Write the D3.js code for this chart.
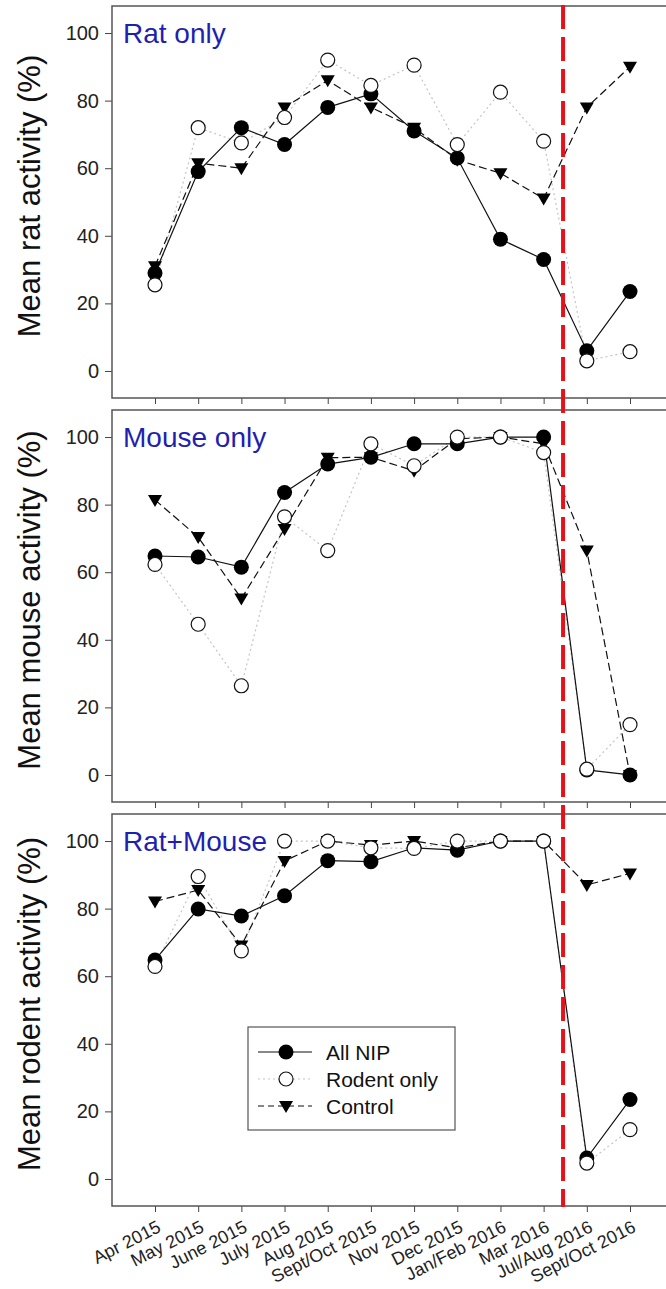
<!DOCTYPE html>
<html>
<head>
<meta charset="utf-8">
<script src="https://cdn.jsdelivr.net/npm/d3@7"></script>
<style>
  body { margin: 0; background: #fff; }
  text { font-family: Arial, "Liberation Sans", sans-serif; }
</style>
</head>
<body>
<div id="chart"></div>
<script>
// Sampling periods
const months = [
    'Apr 2015', 'May 2015', 'June 2015', 'July 2015', 'Aug 2015', 'Sept/Oct 2015',
    'Nov 2015', 'Dec 2015', 'Jan/Feb 2016', 'Mar 2016', 'Jul/Aug 2016', 'Sept/Oct 2016'
];

// Rat only
const ratNIP = [29, 59, 72, 67, 78, 82, 71, 63, 39, 33, 6, 23.5];
const ratRodent = [25.5, 72, 67.5, 75, 92, 84.5, 90.5, 67, 82.5, 68, 3, 5.7];
const ratControl = [31, 61.5, 60, 78, 86, 78, 72, 62.5, 58.5, 51, 78, 90];

// Mouse only
const mouseNIP = [64.8, 64.5, 61.5, 83.6, 92, 94, 98, 98, 100, 100, 1.5, 0];
const mouseRodent = [62.3, 44.6, 26.4, 76.4, 66.4, 98, 91.5, 100, 100, 95.4, 1.7, 14.9];
const mouseControl = [81.4, 70.4, 52.2, 72.8, 93.9, 94, 90, 99.5, 100, 98, 66.4, 0];

// Rat+Mouse
const bothNIP = [64.8, 79.9, 77.8, 83.8, 94.2, 93.9, 98, 97.3, 100, 100, 6.2, 23.5];
const bothRodent = [62.9, 89.5, 67.5, 100, 100, 98, 97.8, 100, 100, 100, 4.7, 14.6];
const bothControl = [82.1, 85.5, 69.1, 94.1, 100, 98.8, 100, 98, 100, 100, 87, 90.4];

const yTicks = [0, 20, 40, 60, 80, 100];
// treatment break, between Mar 2016 and Jul/Aug 2016
const breakAt = 9.45;

const panels = [
    { title: 'Rat only', ylabel: 'Mean rat activity (%)', nip: ratNIP, rodent: ratRodent, control: ratControl },
    { title: 'Mouse only', ylabel: 'Mean mouse activity (%)', nip: mouseNIP, rodent: mouseRodent, control: mouseControl },
    { title: 'Rat+Mouse', ylabel: 'Mean rodent activity (%)', nip: bothNIP, rodent: bothRodent, control: bothControl },
];

// Dimensions
const width = 666;
const height = 1289;
const left = 112;
const right = 668;
const tops = [6, 410, 814];
const panelH = 392;

const svg = d3.select('#chart')
    .append('svg')
    .attr('width', width)
    .attr('height', height);

const x = d3.scaleLinear()
    .domain([0, months.length - 1])
    .range([155, 630]);

const line = (y) => d3.line()
    .x((d, i) => x(i))
    .y((d) => y(d));

const triangle = 'M-7,-5L7,-5L0,7Z';
const rodentGrey = '#c4c4c4';

panels.forEach((p, k) => {
    const top = tops[k];
    const bottom = top + panelH;
    const y = d3.scaleLinear().domain([-8, 108]).range([bottom, top]);
    const g = svg.append('g');

    // y axis
    const yAxis = g.append('g')
        .attr('transform', `translate(${left},0)`)
        .call(d3.axisLeft(y).tickValues(yTicks).tickSize(7).tickPadding(6));
    yAxis.select('.domain').remove();
    yAxis.selectAll('line').attr('stroke', '#444');
    yAxis.selectAll('text').attr('font-size', 20).attr('fill', '#222')
        .style('font-family', 'Arial, "Liberation Sans", sans-serif');

    // x axis
    const xAxis = g.append('g')
        .attr('transform', `translate(0,${bottom})`)
        .call(d3.axisBottom(x).tickValues(d3.range(months.length)).tickSize(6).tickFormat(''));
    xAxis.select('.domain').remove();
    xAxis.selectAll('line').attr('stroke', '#444');

    if (k === 2) {
        g.append('g')
            .selectAll('text')
            .data(months)
            .enter()
            .append('text')
            .attr('transform', (d, i) => `translate(${x(i) + 7},${bottom + 25}) rotate(-27)`)
            .attr('text-anchor', 'end')
            .attr('font-size', 18)
            .attr('fill', '#222')
            .text((d) => d);
    }

    // frame
    g.append('rect')
        .attr('x', left)
        .attr('y', top)
        .attr('width', right - left)
        .attr('height', panelH)
        .attr('fill', 'none')
        .attr('stroke', '#555')
        .attr('stroke-width', 1.5);

    // y label
    g.append('text')
        .attr('transform', `translate(40,${(top + bottom) / 2 - 6}) rotate(-90)`)
        .attr('text-anchor', 'middle')
        .attr('font-size', 31)
        .attr('fill', '#111')
        .text(p.ylabel);

    // panel title
    g.append('text')
        .attr('x', 123)
        .attr('y', top + 37)
        .attr('font-size', 28)
        .attr('fill', '#1f1fb0')
        .text(p.title);

    // lines
    g.append('path')
        .attr('d', line(y)(p.rodent))
        .attr('fill', 'none')
        .attr('stroke', rodentGrey)
        .attr('stroke-width', 1.2)
        .attr('stroke-dasharray', '2,3');
    g.append('path')
        .attr('d', line(y)(p.nip))
        .attr('fill', 'none')
        .attr('stroke', '#111')
        .attr('stroke-width', 1.2);
    g.append('path')
        .attr('d', line(y)(p.control))
        .attr('fill', 'none')
        .attr('stroke', '#111')
        .attr('stroke-width', 1.2)
        .attr('stroke-dasharray', '8,4');

    // markers
    g.append('g')
        .selectAll('circle')
        .data(p.nip)
        .enter()
        .append('circle')
        .attr('cx', (d, i) => x(i))
        .attr('cy', (d) => y(d))
        .attr('r', 7.5)
        .attr('fill', '#000');
    g.append('g')
        .selectAll('path')
        .data(p.control)
        .enter()
        .append('path')
        .attr('d', triangle)
        .attr('transform', (d, i) => `translate(${x(i)},${y(d)})`)
        .attr('fill', '#000');
    g.append('g')
        .selectAll('circle')
        .data(p.rodent)
        .enter()
        .append('circle')
        .attr('cx', (d, i) => x(i))
        .attr('cy', (d) => y(d))
        .attr('r', 7)
        .attr('fill', '#fff')
        .attr('stroke', '#111')
        .attr('stroke-width', 1.2);
});

// legend in bottom panel
const legend = svg.append('g').attr('transform', 'translate(248,1027)');
legend.append('rect')
    .attr('width', 207)
    .attr('height', 103)
    .attr('fill', '#fff')
    .attr('stroke', '#555')
    .attr('stroke-width', 1.2);

const legendItems = [
    { label: 'All NIP', stroke: '#111', dash: null, mark: 'filled' },
    { label: 'Rodent only', stroke: rodentGrey, dash: '2,3', mark: 'open' },
    { label: 'Control', stroke: '#111', dash: '6,4', mark: 'tri' },
];

legendItems.forEach((d, i) => {
    const cy = 25 + i * 27;
    legend.append('line')
        .attr('x1', 10).attr('x2', 64)
        .attr('y1', cy).attr('y2', cy)
        .attr('stroke', d.stroke)
        .attr('stroke-width', 1.2)
        .attr('stroke-dasharray', d.dash);
    if (d.mark === 'filled') {
        legend.append('circle').attr('cx', 38).attr('cy', cy).attr('r', 7.5).attr('fill', '#000');
    } else if (d.mark === 'open') {
        legend.append('circle').attr('cx', 38).attr('cy', cy).attr('r', 7)
            .attr('fill', '#fff').attr('stroke', '#111').attr('stroke-width', 1.2);
    } else {
        legend.append('path').attr('d', triangle).attr('transform', `translate(38,${cy})`).attr('fill', '#000');
    }
    legend.append('text')
        .attr('x', 78)
        .attr('y', cy + 7.5)
        .attr('font-size', 21)
        .attr('fill', '#111')
        .text(d.label);
});

// red dashed break line across all panels
svg.append('line')
    .attr('x1', x(breakAt)).attr('x2', x(breakAt))
    .attr('y1', 5).attr('y2', 1207)
    .attr('stroke', '#e3121b')
    .attr('stroke-width', 4)
    .attr('stroke-dasharray', '24,8');
</script>
</body>
</html>
